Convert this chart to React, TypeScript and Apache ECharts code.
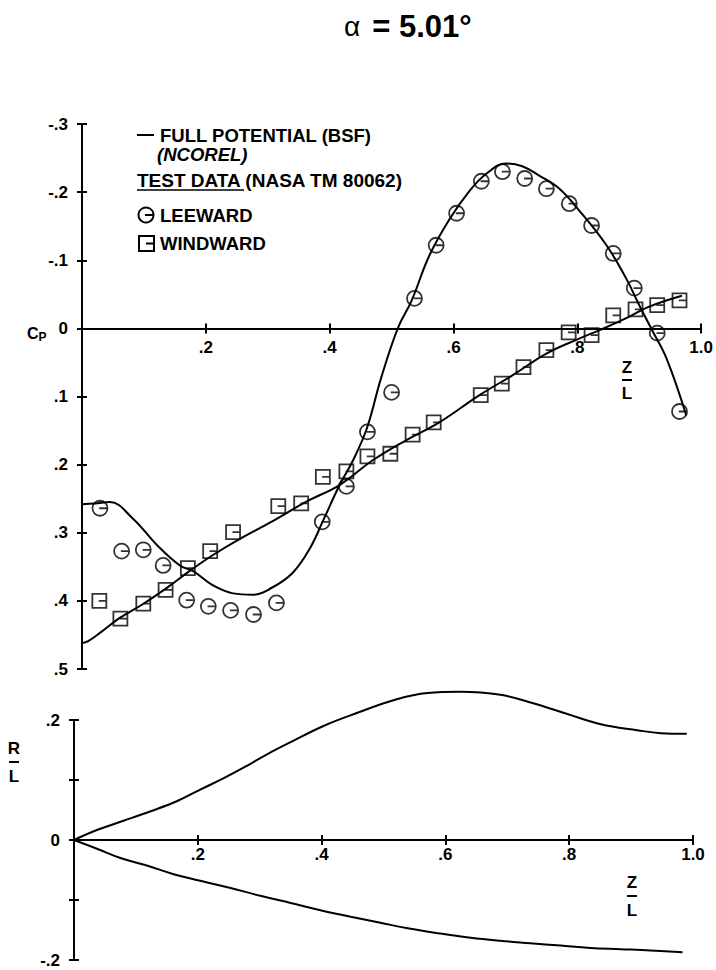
import React, { useEffect, useRef } from "react";
import * as echarts from "echarts";

const FONT = "'Liberation Sans', Arial, Helvetica, sans-serif";

// ---- Upper plot: pressure coefficient vs Z/L ----
const leewardTheoryZ = [0, 0.021, 0.045, 0.082, 0.121, 0.158, 0.179, 0.211, 0.244, 0.276, 0.308, 0.34, 0.368, 0.389, 0.416, 0.437, 0.46, 0.483, 0.51, 0.532, 0.561, 0.594, 0.626, 0.653, 0.685, 0.711, 0.739, 0.771, 0.803, 0.847, 0.879, 0.9, 0.921, 0.944, 0.976];
const leewardTheoryCp = [0.258, 0.257, 0.255, 0.279, 0.318, 0.348, 0.356, 0.377, 0.389, 0.391, 0.38, 0.359, 0.323, 0.283, 0.23, 0.195, 0.147, 0.073, 0.0, -0.04, -0.107, -0.161, -0.202, -0.227, -0.242, -0.238, -0.224, -0.205, -0.173, -0.122, -0.073, -0.034, 0.003, 0.044, 0.128];

const windwardTheoryZ = [0, 0.01, 0.029, 0.061, 0.098, 0.137, 0.174, 0.211, 0.255, 0.308, 0.363, 0.416, 0.469, 0.524, 0.577, 0.642, 0.695, 0.75, 0.803, 0.84, 0.879, 0.916, 0.969];
const windwardTheoryCp = [0.462, 0.459, 0.447, 0.425, 0.405, 0.381, 0.356, 0.333, 0.309, 0.283, 0.254, 0.23, 0.194, 0.164, 0.138, 0.098, 0.069, 0.037, 0.015, 0.001, -0.015, -0.032, -0.048];

const leewardTestZ = [0.029, 0.064, 0.099, 0.131, 0.169, 0.204, 0.24, 0.277, 0.314, 0.388, 0.427, 0.461, 0.5, 0.537, 0.572, 0.605, 0.645, 0.679, 0.715, 0.75, 0.787, 0.823, 0.858, 0.892, 0.929, 0.965];
const leewardTestCp = [0.264, 0.327, 0.325, 0.348, 0.399, 0.408, 0.414, 0.42, 0.403, 0.284, 0.232, 0.152, 0.094, -0.044, -0.122, -0.169, -0.216, -0.23, -0.22, -0.205, -0.183, -0.151, -0.11, -0.059, 0.007, 0.122];

const windwardTestZ = [0.028, 0.062, 0.099, 0.135, 0.171, 0.207, 0.244, 0.317, 0.354, 0.389, 0.427, 0.461, 0.498, 0.534, 0.568, 0.644, 0.678, 0.713, 0.75, 0.786, 0.823, 0.858, 0.894, 0.929, 0.965];
const windwardTestCp = [0.4, 0.426, 0.404, 0.384, 0.352, 0.327, 0.299, 0.261, 0.257, 0.218, 0.21, 0.188, 0.184, 0.156, 0.138, 0.098, 0.081, 0.057, 0.032, 0.006, 0.01, -0.019, -0.028, -0.034, -0.041];

// ---- Lower plot: body radius R/L vs Z/L ----
const upperRadiusZ = [0, 0.038, 0.08, 0.124, 0.167, 0.2, 0.242, 0.28, 0.314, 0.35, 0.403, 0.458, 0.516, 0.571, 0.624, 0.689, 0.742, 0.797, 0.851, 0.91, 0.948, 0.99];
const upperRadiusR = [0, 0.017, 0.032, 0.048, 0.065, 0.082, 0.103, 0.124, 0.144, 0.163, 0.19, 0.212, 0.233, 0.245, 0.247, 0.242, 0.228, 0.21, 0.193, 0.183, 0.178, 0.177];

const lowerRadiusZ = [0, 0.038, 0.075, 0.119, 0.161, 0.204, 0.253, 0.301, 0.35, 0.398, 0.447, 0.495, 0.544, 0.592, 0.641, 0.689, 0.737, 0.786, 0.834, 0.883, 0.931, 0.983];
const lowerRadiusR = [0, -0.015, -0.03, -0.043, -0.057, -0.068, -0.08, -0.093, -0.105, -0.117, -0.128, -0.138, -0.148, -0.156, -0.163, -0.168, -0.172, -0.176, -0.18, -0.182, -0.184, -0.187];

// ---- Texts ----
const titleAlpha = "α";
const titleValue = "= 5.01°";
const legendTheory = "FULL POTENTIAL (BSF)";
const legendTheory2 = "(NCOREL)";
const legendTestHead = "TEST DATA";
const legendTestRef = " (NASA TM 80062)";
const legendLee = "LEEWARD";
const legendWind = "WINDWARD";

const zip = (a: number[], b: number[]) => a.map((v, i) => [v, b[i]]);

const fmtNum = (v: number) => {
  if (Math.abs(v) < 1e-9) return "0";
  const s = Math.abs(v).toFixed(1).replace(/^0/, "");
  return (v < 0 ? "-" : "") + s;
};

const LEE_SYMBOL = "path://M0 10 A10 10 0 1 0 20 10 A10 10 0 1 0 0 10 Z M9 10 L20 10";
const WIND_SYMBOL = "path://M0 0 L20 0 L20 20 L0 20 Z M9 10 L20 10";

const labelStyle = { color: "#000", fontSize: 17, fontWeight: "bold", fontFamily: FONT };
const lineStyle = { color: "#000", width: 2 };

// grid geometry
const G1 = { left: 82, top: 124, width: 620, height: 545 };
const G2 = { left: 74, top: 720, width: 619, height: 240 };
const CP_MIN = -0.3, CP_MAX = 0.5;
const R_MIN = -0.2, R_MAX = 0.2;
// distance from the grid bottom up to the zero line (axis moved there with a negative offset)
const off1 = -G1.height * (CP_MAX / (CP_MAX - CP_MIN));
const off2 = -G2.height * (-R_MIN / (R_MAX - R_MIN));

function xAxes(grid: number, offset: number, margin: number) {
  const base: any = {
    gridIndex: grid,
    type: "value",
    min: 0,
    max: 1,
    interval: 0.2,
    position: "bottom",
    offset,
    axisLine: { show: true, onZero: false, lineStyle },
    splitLine: { show: false },
  };
  return [
    {
      ...base,
      axisTick: { show: true, length: 5, lineStyle },
      axisLabel: { ...labelStyle, margin, formatter: (v: number) => (Math.abs(v) < 1e-9 ? "" : Math.abs(v - 1) < 1e-9 ? "1.0" : fmtNum(v)) },
    },
    { ...base, axisTick: { show: true, inside: true, length: 5, lineStyle }, axisLabel: { show: false } },
  ];
}

function yAxes(grid: number, min: number, max: number, inverse: boolean, fmt: (v: number) => string) {
  const base: any = {
    gridIndex: grid,
    type: "value",
    min,
    max,
    interval: 0.1,
    inverse,
    position: "left",
    axisLine: { show: true, onZero: false, lineStyle },
    splitLine: { show: false },
  };
  return [
    { ...base, axisTick: { show: true, length: 5, lineStyle }, axisLabel: { ...labelStyle, margin: 14, formatter: fmt } },
    { ...base, axisTick: { show: true, inside: true, length: 5, lineStyle }, axisLabel: { show: false } },
  ];
}

const txt = (x: number, y: number, text: string, extra: any = {}) => ({
  type: "text",
  x,
  y,
  style: { text, fill: "#000", font: `bold 18.5px ${FONT}`, verticalAlign: "middle", ...extra },
});

const fraction = (cx: number, top: string, bottom: string, yTop: number, yBar: number, yBot: number) => [
  txt(cx, yTop, top, { align: "center", font: `bold 17px ${FONT}` }),
  { type: "line", shape: { x1: cx - 5, y1: yBar, x2: cx + 5, y2: yBar }, style: { stroke: "#000", lineWidth: 2 } },
  txt(cx, yBot, bottom, { align: "center", font: `bold 17px ${FONT}` }),
];

export default function App() {
  const ref = useRef<HTMLDivElement>(null);
  useEffect(() => {
    if (!ref.current) return;
    const chart = echarts.init(ref.current, undefined, { renderer: "svg" });
    const option: any = {
      animation: false,
      backgroundColor: "#fff",
      grid: [G1, G2],
      xAxis: [...xAxes(0, off1, 11), ...xAxes(1, off2, 6)],
      yAxis: [
        ...yAxes(0, CP_MIN, CP_MAX, true, fmtNum),
        ...yAxes(1, R_MIN, R_MAX, false, (v: number) => (Math.abs(Math.abs(v) - 0.1) < 1e-6 ? "" : fmtNum(v))),
      ],
      series: [
        { name: "Leeward theory", type: "line", xAxisIndex: 0, yAxisIndex: 0, data: zip(leewardTheoryZ, leewardTheoryCp), smooth: 0.4, showSymbol: false, lineStyle, silent: true },
        { name: "Windward theory", type: "line", xAxisIndex: 0, yAxisIndex: 0, data: zip(windwardTheoryZ, windwardTheoryCp), smooth: 0.4, showSymbol: false, lineStyle, silent: true },
        {
          name: legendLee, type: "scatter", xAxisIndex: 0, yAxisIndex: 0, data: zip(leewardTestZ, leewardTestCp),
          symbol: LEE_SYMBOL, symbolSize: 15,
          itemStyle: { color: "rgba(0,0,0,0)", borderColor: "#000", borderWidth: 1.8 },
        },
        {
          name: legendWind, type: "scatter", xAxisIndex: 0, yAxisIndex: 0, data: zip(windwardTestZ, windwardTestCp),
          symbol: WIND_SYMBOL, symbolSize: 14,
          itemStyle: { color: "rgba(0,0,0,0)", borderColor: "#000", borderWidth: 1.8 },
        },
        { name: "Upper radius", type: "line", xAxisIndex: 2, yAxisIndex: 2, data: zip(upperRadiusZ, upperRadiusR), smooth: 0.4, showSymbol: false, lineStyle, silent: true, clip: false },
        { name: "Lower radius", type: "line", xAxisIndex: 2, yAxisIndex: 2, data: zip(lowerRadiusZ, lowerRadiusR), smooth: 0.4, showSymbol: false, lineStyle, silent: true, clip: false },
      ],
      graphic: [
        {
          type: "text", x: 344, y: 26,
          style: {
            text: `{a|${titleAlpha}}{s| }{b|${titleValue}}`,
            verticalAlign: "middle",
            rich: {
              a: { fontSize: 28, fontFamily: FONT, fill: "#000", fontWeight: "normal" },
              s: { fontSize: 28, fontFamily: FONT, width: 12 },
              b: { fontSize: 31, fontFamily: FONT, fill: "#000", fontWeight: "bold" },
            },
          },
        },
        // legend
        { type: "line", shape: { x1: 137, y1: 135, x2: 154, y2: 135 }, style: { stroke: "#000", lineWidth: 2 } },
        txt(160, 135, legendTheory),
        txt(157, 154, legendTheory2, { font: `italic bold 18.5px ${FONT}` }),
        txt(137, 180, legendTestHead + legendTestRef, { font: `bold 19px ${FONT}` }),
        { type: "line", shape: { x1: 137, y1: 190, x2: 244, y2: 190 }, style: { stroke: "#000", lineWidth: 1.5 } },
        { type: "circle", shape: { cx: 146, cy: 215, r: 7.5 }, style: { fill: "none", stroke: "#000", lineWidth: 2 } },
        { type: "line", shape: { x1: 145, y1: 215, x2: 153, y2: 215 }, style: { stroke: "#000", lineWidth: 2 } },
        txt(160, 215, legendLee),
        { type: "rect", shape: { x: 139, y: 236, width: 15, height: 15 }, style: { fill: "none", stroke: "#000", lineWidth: 2 } },
        { type: "line", shape: { x1: 146, y1: 243.5, x2: 154, y2: 243.5 }, style: { stroke: "#000", lineWidth: 2 } },
        txt(160, 243, legendWind),
        // Cp label
        {
          type: "text", x: 27, y: 333,
          style: {
            text: "{c|C}{p|P}",
            verticalAlign: "middle",
            rich: {
              c: { fontSize: 16, fontWeight: "bold", fontFamily: FONT, fill: "#000" },
              p: { fontSize: 12, fontWeight: "bold", fontFamily: FONT, fill: "#000", padding: [8, 0, 0, 0] },
            },
          },
        },
        ...fraction(627, "Z", "L", 367, 380, 393),
        ...fraction(632, "Z", "L", 882, 896, 910),
        ...fraction(14, "R", "L", 748, 762, 776),
      ],
    };
    chart.setOption(option);
    return () => chart.dispose();
  }, []);
  return <div ref={ref} style={{ position: "absolute", left: 0, top: 0, width: 716, height: 970 }} />;
}
